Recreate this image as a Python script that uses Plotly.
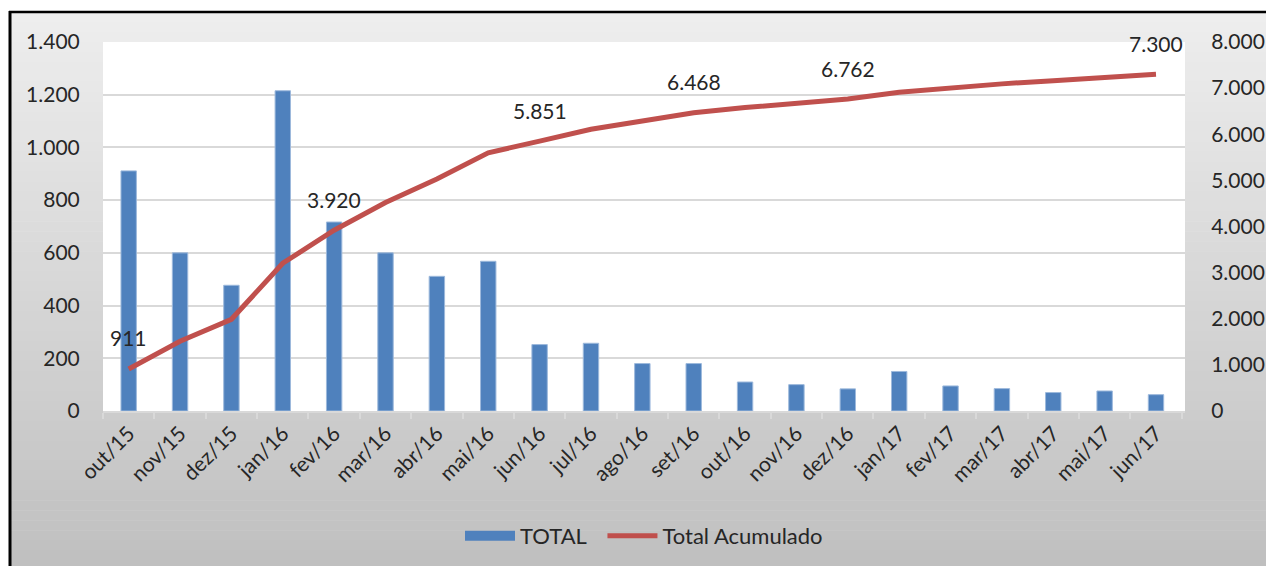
import plotly.graph_objects as go

months = ["out/15", "nov/15", "dez/15", "jan/16", "fev/16", "mar/16", "abr/16",
          "mai/16", "jun/16", "jul/16", "ago/16", "set/16", "out/16", "nov/16",
          "dez/16", "jan/17", "fev/17", "mar/17", "abr/17", "mai/17", "jun/17"]
total = [911, 600, 477, 1215, 717, 600, 511, 568, 252, 257, 180, 180, 110, 100,
         84, 150, 95, 85, 70, 76, 62]
total_acumulado = [911, 1511, 1988, 3203, 3920, 4520, 5031, 5599, 5851, 6108, 6288,
                   6468, 6578, 6678, 6762, 6912, 7007, 7092, 7162, 7238, 7300]
labelled_months = ["out/15", "fev/16", "jun/16", "set/16", "dez/16", "jun/17"]

left_ticks = [0, 200, 400, 600, 800, 1000, 1200, 1400]
right_ticks = [0, 1000, 2000, 3000, 4000, 5000, 6000, 7000, 8000]

FONT = "Lato"
TXT = "#262626"
BLUE = "#4f81bd"
RED = "#c0504d"

W, H = 1266, 566
L, R, T, B = 103, 81, 42, 155
pw, ph = W - L - R, H - T - B


def px_x(x):
    return (x - L) / pw


def px_y(y):
    return (H - B - y) / ph


fig = go.Figure()
fig.add_trace(go.Bar(
    x=months, y=total, name="TOTAL", width=0.3, showlegend=False,
    legendgroup="total",
    marker=dict(color=BLUE, line=dict(color="#9db9dc", width=1)),
    yaxis="y",
))
# legend entry for the bars, drawn as a wide block like the original
fig.add_trace(go.Scatter(
    x=[None], y=[None], name="TOTAL\u00a0\u00a0", mode="lines",
    legendgroup="total",
    line=dict(color=BLUE, width=13), yaxis="y", hoverinfo="skip",
))
fig.add_trace(go.Scatter(
    x=months, y=total_acumulado, name="Total Acumulado", mode="lines",
    line=dict(color=RED, width=5), yaxis="y2",
))

for m in labelled_months:
    i = months.index(m)
    v = total_acumulado[i]
    fig.add_annotation(
        x=m, y=v, xref="x", yref="y2", text=f"{v:,}".replace(",", "."),
        showarrow=False, yshift=31, font=dict(family=FONT, size=21, color=TXT),
    )

# vertical grey gradient of the chart frame, built from thin bands
shapes = []
top_px, bot_px = 12, H + 4
n_bands = 56
c_top, c_bot = 0xEE, 0xBF
for k in range(n_bands):
    y0 = top_px + (bot_px - top_px) * k / n_bands
    y1 = top_px + (bot_px - top_px) * (k + 1) / n_bands + 0.6
    c = round(c_top + (c_bot - c_top) * (k + 0.5) / n_bands)
    shapes.append(dict(type="rect", xref="paper", yref="paper",
                       x0=px_x(10), x1=px_x(W + 20), y0=px_y(y1), y1=px_y(y0),
                       fillcolor=f"rgb({c},{c},{c})", line=dict(width=0),
                       layer="below"))
shapes += [
    dict(type="rect", xref="paper", yref="paper", x0=0, x1=1, y0=0, y1=1,
         fillcolor="white", line=dict(width=0), layer="below"),
    dict(type="line", xref="paper", yref="paper", x0=px_x(10), x1=px_x(10),
         y0=px_y(11), y1=px_y(H + 5), line=dict(color="black", width=3), layer="above"),
    dict(type="line", xref="paper", yref="paper", x0=px_x(9), x1=px_x(W + 20),
         y0=px_y(12), y1=px_y(12), line=dict(color="black", width=2.5), layer="above"),
]

fig.update_layout(
    width=W, height=H, margin=dict(l=L, r=R, t=T, b=B, autoexpand=False),
    paper_bgcolor="white", plot_bgcolor="white",
    separators=",.",
    font=dict(family=FONT, size=21, color=TXT),
    shapes=shapes,
    showlegend=True,
    legend=dict(orientation="h", x=0.5, xanchor="center", y=px_y(536),
                yanchor="middle",
                font=dict(family=FONT, size=22, color=TXT), bgcolor="rgba(0,0,0,0)",
                itemwidth=50, traceorder="normal"),
    xaxis=dict(
        type="category", tickangle=-45, tickson="boundaries", ticks="outside",
        ticklen=6, tickcolor="#d9d9d9", tickwidth=2, showline=True,
        linecolor="#d9d9d9", linewidth=2, showgrid=False, automargin=False,
        tickfont=dict(family=FONT, size=21, color=TXT),
    ),
    yaxis=dict(
        range=[0, 1400], tickvals=left_ticks, tickformat=",d", automargin=False,
        showgrid=True, gridcolor="#d9d9d9", gridwidth=2, zeroline=False,
        ticks="outside", ticklen=18, tickcolor="rgba(0,0,0,0)",
        tickfont=dict(family=FONT, size=21, color=TXT),
    ),
    yaxis2=dict(
        range=[0, 8000], tickvals=right_ticks, tickformat=",d", overlaying="y",
        side="right", showgrid=False, zeroline=False, automargin=False,
        ticks="outside", ticklen=21, tickcolor="rgba(0,0,0,0)",
        tickfont=dict(family=FONT, size=21, color=TXT),
    ),
    bargap=0.7,
)

fig.write_html("out.html", config={"displayModeBar": False},
               post_script="document.body.style.margin='0';"
                           "document.documentElement.style.overflow='hidden';"
                           "document.body.style.overflow='hidden';")
